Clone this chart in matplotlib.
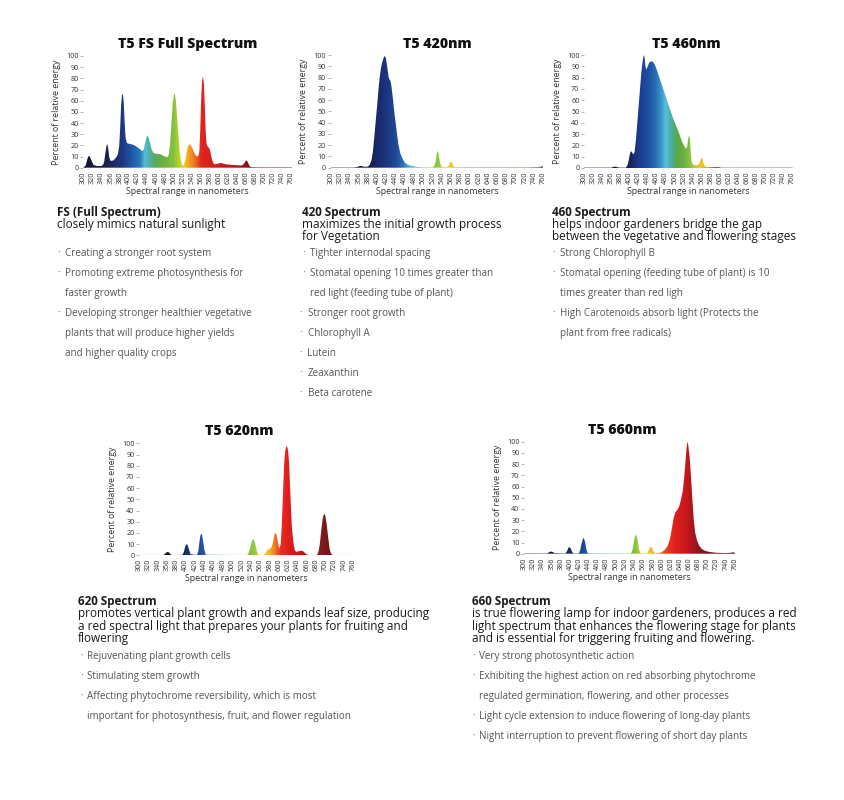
import numpy as np
import matplotlib.pyplot as plt
from matplotlib.colors import LinearSegmentedColormap, Normalize
from matplotlib.patches import Polygon

plt.rcParams['font.family'] = ['Open Sans', 'DejaVu Sans']

W, H = 845, 800

# ---- axis ticks (the reference prints "356" where 360 would be) ----
tick_nm = [300, 320, 340, 360, 380, 400, 420, 440, 460, 480, 500, 520,
           540, 560, 580, 600, 620, 640, 660, 680, 700, 720, 740, 760]
tick_labels = ['300', '320', '340', '356', '380', '400', '420', '440', '460',
               '480', '500', '520', '540', '560', '580', '600', '620', '640',
               '660', '680', '700', '720', '740', '760']
y_ticks = [0, 10, 20, 30, 40, 50, 60, 70, 80, 90, 100]

# ---- spectra ----
fs_nm = [300, 305, 308, 311, 314, 318, 322, 330, 340, 344, 346, 349, 351, 353, 355, 357,
         360, 366, 372, 376, 379, 381, 383, 385, 387, 389, 391, 393, 396, 400, 405, 410,
         415, 420, 425, 430, 433, 436, 439, 441, 443, 446, 450, 455, 460, 465, 470, 475,
         480, 485, 488, 491, 494, 497, 500, 502, 504, 507, 510, 513, 516, 519, 522, 525,
         528, 531, 534, 537, 541, 545, 549, 552, 554, 556, 558, 560, 562, 564, 566, 568,
         570, 572, 575, 578, 581, 584, 587, 590, 595, 600, 605, 610, 615, 620, 630, 640,
         648, 652, 656, 659, 662, 665, 668, 672, 700, 760]
fs_energy = [0.3, 2, 7, 10.5, 10, 6, 2.5, 1.5, 1.5, 3, 6, 15, 20, 21, 16, 9,
             6, 6.5, 9, 12, 20, 35, 55, 65, 66, 58, 40, 27, 22, 21.5, 21, 20.5,
             19.5, 18, 16.5, 15, 16, 22, 27, 28.5, 28, 24, 17, 13, 12.5, 12.5, 12, 11,
             10, 9.5, 11, 20, 38, 57, 66, 66, 60, 45, 28, 13, 5, 2, 2.5, 7,
             14, 19.5, 21, 20, 17, 13, 10.5, 10, 11, 15, 35, 62, 78, 81.5, 75, 55,
             32, 21, 18.5, 17.5, 13, 7, 4, 3, 3.5, 4, 4.2, 3.5, 3, 2.8, 2.5, 2.2,
             2, 2.5, 4.5, 6.5, 6, 3, 1, 0.5, 0.4, 0.4]

nm420 = [300, 350, 358, 362, 366, 370, 375, 380, 384, 388, 391, 394, 397, 400, 403, 406,
         409, 412, 415, 417, 419, 421, 423, 425, 427, 429, 431, 434, 437, 440, 443, 446,
         450, 455, 460, 465, 470, 478, 485, 495, 520, 524, 527, 529, 531, 533, 535, 538,
         541, 552, 555, 558, 560, 562, 565, 568, 750, 755, 758, 760]
energy420 = [0.3, 0.3, 0.8, 1.5, 1.5, 1, 0.8, 1, 2.5, 7, 15, 28, 42, 55, 70, 82,
             90, 95, 98.5, 99, 97, 92, 86, 80, 78, 77, 72, 62, 50, 40, 30, 21,
             13, 8, 4.5, 3, 2.2, 1.5, 0.8, 0.4, 0.4, 1.5, 6, 12, 15, 13, 7, 2,
             0.5, 0.5, 1.5, 4.5, 5.5, 4.5, 1.5, 0.5, 0.5, 1, 1.2, 0.5]

nm460 = [300, 360, 364, 368, 372, 378, 392, 396, 399, 401, 403, 405, 408, 411, 414, 417,
         420, 423, 426, 429, 431, 433, 435, 437, 440, 443, 447, 451, 455, 460, 465, 470,
         475, 480, 485, 490, 495, 500, 505, 510, 515, 520, 524, 527, 529, 531, 533, 535,
         537, 540, 545, 550, 554, 557, 559, 561, 563, 566, 570, 598, 602, 760]
energy460 = [0.3, 0.3, 1, 1.2, 0.8, 0.3, 0.3, 3, 9, 13, 15, 14, 12, 14, 25, 40,
             55, 70, 85, 95, 100, 98, 90, 87, 90, 93, 94.5, 94, 92, 87, 81, 75,
             69, 63, 57, 51, 45, 40, 35, 30, 24, 20, 17, 19, 25, 29, 26, 14,
             5, 3, 2.5, 2.5, 4, 7.5, 9, 8, 4, 1.5, 0.8, 0.8, 0.3, 0.3]

nm620 = [300, 352, 355, 358, 361, 364, 367, 370, 392, 395, 398, 400, 402, 404, 407, 410,
         424, 427, 429, 431, 433, 435, 437, 440, 443, 532, 535, 538, 541, 543, 545, 547,
         550, 553, 556, 568, 572, 576, 580, 584, 587, 589, 591, 593, 595, 597, 599, 601,
         604, 606, 608, 610, 612, 614, 616, 618, 620, 622, 624, 626, 628, 631, 634, 637,
         641, 646, 651, 655, 660, 665, 682, 685, 688, 691, 694, 696, 698, 700, 703, 706,
         709, 712, 716, 760]
energy620 = [0.3, 0.3, 1.2, 2.5, 3, 2.5, 1, 0.3, 0.3, 2, 6.5, 9, 10, 9, 5, 1,
             0.3, 4, 11, 17, 19.5, 18, 13, 5, 0.5, 0.3, 2, 6, 11, 13.5, 14.5, 13,
             9, 3, 0.5, 0.5, 2.5, 5, 5.5, 7, 11, 16, 19, 20, 18.5, 14, 9, 6,
             10, 25, 45, 68, 86, 94, 97, 97, 93, 82, 62, 42, 25, 12, 5, 3,
             3.5, 4, 4, 2.5, 0.8, 0.3, 0.3, 3, 10, 22, 32, 36, 37, 35, 27, 16,
             6, 1.5, 0.3, 0.3]

nm660 = [300, 350, 354, 358, 362, 366, 390, 393, 396, 398, 401, 404, 407, 419, 422, 425,
         428, 430, 433, 436, 439, 533, 536, 539, 542, 544, 547, 550, 553, 568, 571, 574,
         576, 579, 582, 585, 592, 600, 607, 613, 618, 622, 626, 630, 634, 638, 642, 646,
         649, 652, 654, 656, 658, 661, 664, 667, 670, 673, 677, 682, 688, 695, 705, 720,
         740, 750, 755, 758, 760]
energy660 = [0.3, 0.3, 1.2, 2, 1.5, 0.5, 0.3, 2, 5, 6, 5, 2, 0.3, 0.3, 3, 9,
             13.5, 14, 10, 3, 0.3, 0.3, 3, 10, 16, 17, 13, 5, 0.5, 0.3, 2.5, 5.5,
             6.5, 5, 2, 0.5, 0.5, 1.5, 3.5, 7, 13, 22, 32, 37, 39, 42, 48, 56,
             68, 83, 93, 100, 97, 86, 68, 48, 30, 19, 12, 7, 4, 2.5, 1.5, 0.8,
             0.6, 0.8, 1.2, 1, 0.5]

# ---- colour ramps along the wavelength axis ----
fs_stops = [(300, '#15163a'), (340, '#181c44'), (355, '#1c2452'), (385, '#1e3580'),
            (405, '#1f55a3'), (425, '#2776ba'), (436, '#52bfd6'), (444, '#4fb3ad'),
            (458, '#5aa866'), (475, '#6cae3e'), (500, '#86c240'), (512, '#b8d42c'),
            (522, '#f0d21a'), (532, '#f2a621'), (548, '#ea6a22'), (560, '#e2261e'),
            (585, '#d81e1e'), (615, '#c01a1c'), (645, '#a8171c'), (665, '#7c1420'),
            (760, '#5a1020')]
stops420 = [(300, '#10122e'), (380, '#141a48'), (400, '#1a2a6a'), (420, '#1c357f'),
            (440, '#1f4a98'), (455, '#2a6fb5'), (470, '#50b8d8'), (490, '#70c0a0'),
            (510, '#80c050'), (530, '#8cc63f'), (545, '#c8d030'), (560, '#f5c518'),
            (578, '#f0a030'), (600, '#e88080'), (720, '#e07070'), (760, '#303030')]
stops460 = [(300, '#10122e'), (390, '#141a48'), (405, '#1a2560'), (420, '#1d3a8a'),
            (440, '#1f4fa0'), (455, '#2668b0'), (470, '#3a98cc'), (480, '#5ac0dc'),
            (490, '#48b0a8'), (505, '#58a848'), (520, '#6cb03c'), (535, '#8cc63f'),
            (550, '#d8d020'), (560, '#f5c020'), (575, '#e88030'), (590, '#d03020'),
            (760, '#c02020')]
stops620 = [(300, '#10122e'), (370, '#141838'), (400, '#1a2a68'), (430, '#1f4a9a'),
            (460, '#3a90c0'), (530, '#7ab840'), (545, '#8cc63f'), (565, '#e8d020'),
            (578, '#f5c020'), (592, '#f08020'), (605, '#e83020'), (620, '#e01e1e'),
            (650, '#c01a1a'), (680, '#902020'), (700, '#7a1a1a'), (760, '#501018')]
stops660 = [(300, '#10122e'), (360, '#141838'), (400, '#1a2a68'), (430, '#1f4a9a'),
            (460, '#3a90c0'), (530, '#7ab840'), (545, '#8cc63f'), (565, '#e8d020'),
            (576, '#f5c020'), (595, '#f08040'), (610, '#e84020'), (630, '#e01e1e'),
            (650, '#d01a1a'), (665, '#b0161c'), (690, '#801420'), (760, '#401018')]

# ---- texts ----
titles = ['T5 FS Full Spectrum', 'T5 420nm', 'T5 460nm', 'T5 620nm', 'T5 660nm']
heads = ['FS (Full Spectrum)', '420 Spectrum', '460 Spectrum', '620 Spectrum', '660 Spectrum']
subs = [
    ['closely mimics natural sunlight'],
    ['maximizes the initial growth process', 'for Vegetation'],
    ['helps indoor gardeners bridge the gap', 'between the vegetative and flowering stages'],
    ['promotes vertical plant growth and expands leaf size, producing',
     'a red spectral light that prepares your plants for fruiting and', 'flowering'],
    ['is true flowering lamp for indoor gardeners, produces a red',
     'light spectrum that enhances the flowering stage for plants',
     'and is essential for triggering fruiting and flowering.'],
]
bullets = [
    [['Creating a stronger root system'],
     ['Promoting extreme photosynthesis for', 'faster growth'],
     ['Developing stronger healthier vegetative', 'plants that will produce higher yields',
      'and higher quality crops']],
    [['Tighter internodal spacing'],
     ['Stomatal opening 10 times greater than', 'red light (feeding tube of plant)'],
     ['Stronger root growth'], ['Chlorophyll A'], ['Lutein'], ['Zeaxanthin'], ['Beta carotene']],
    [['Strong Chlorophyll B'],
     ['Stomatal opening (feeding tube of plant) is 10', 'times greater than red ligh'],
     ['High Carotenoids absorb light (Protects the', 'plant from free radicals)']],
    [['Rejuvenating plant growth cells'], ['Stimulating stem growth'],
     ['Affecting phytochrome reversibility, which is most',
      'important for photosynthesis, fruit, and flower regulation']],
    [['Very strong photosynthetic action'],
     ['Exhibiting the highest action on red absorbing phytochrome',
      'regulated germination, flowering, and other processes'],
     ['Light cycle extension to induce flowering of long-day plants'],
     ['Night interruption to prevent flowering of short day plants']],
]

# ---- layout in pixels: axes box (left, top, right, bottom), title centre ----
charts = [
    dict(nm=fs_nm, en=fs_energy, stops=fs_stops, box=(83.5, 56, 291.7, 167.7), tc=(187.7, 44.3)),
    dict(nm=nm420, en=energy420, stops=stops420, box=(331, 55, 543.3, 167.7), tc=(437.7, 44.3)),
    dict(nm=nm460, en=energy460, stops=stops460, box=(584.3, 55, 792.7, 168), tc=(686.7, 44.3)),
    dict(nm=nm620, en=energy620, stops=stops620, box=(139.3, 443.3, 353.3, 555.3), tc=(238.8, 431)),
    dict(nm=nm660, en=energy660, stops=stops660, box=(524.3, 441.7, 735, 553.7), tc=(622.5, 430)),
]
blocks = [
    dict(hx=56.7, hy=212.4, dot=58.3, tx=65, by=253.3, shift=[0, 0, 0]),
    dict(hx=301.7, hy=212.3, dot=303.3, tx=310, by=253.3, shift=[0, 0, -2.5, -2.5, -2.5, -2.5, -2.5]),
    dict(hx=552.3, hy=212.3, dot=554, tx=560, by=253.3, shift=[0, 0, 0]),
    dict(hx=78.3, hy=601.7, dot=81.7, tx=86.7, by=656.7, shift=[0, 0, 0]),
    dict(hx=471.7, hy=601.7, dot=473.3, tx=479.3, by=656.7, shift=[0, 0, 0, 0]),
]


def fx(x):
    return x / W


def fy(y):
    return 1 - y / H


fig = plt.figure(figsize=(W / 100, H / 100), dpi=100)
fig.patch.set_facecolor('white')

for c, title in zip(charts, titles):
    l, t, r, b = c['box']
    ax = fig.add_axes([fx(l), fy(b), (r - l) / W, (b - t) / H])
    ax.set_xlim(300, 760)
    ax.set_ylim(0, 100)

    pos = [(s[0] - 300) / 460 for s in c['stops']]
    cmap = LinearSegmentedColormap.from_list('spec', list(zip(pos, [s[1] for s in c['stops']])))
    grad = np.linspace(300, 760, 921).reshape(1, -1)
    im = ax.imshow(grad, extent=[300, 760, 0, 100], aspect='auto', cmap=cmap,
                   norm=Normalize(300, 760), origin='lower', interpolation='bilinear', zorder=2)
    verts = [(c['nm'][0], 0)] + list(zip(c['nm'], c['en'])) + [(c['nm'][-1], 0)]
    shape = Polygon(verts, closed=True, facecolor='none', edgecolor='none', transform=ax.transData)
    ax.add_patch(shape)
    im.set_clip_path(shape)

    for s in ax.spines.values():
        s.set_visible(False)
    ax.set_xticks(tick_nm)
    ax.set_xticklabels(tick_labels, rotation=90, fontsize=5.2, color='#333333')
    ax.set_yticks(y_ticks)
    ax.set_yticklabels([str(v) for v in y_ticks], fontsize=5.2, color='#333333')
    ax.tick_params(axis='x', length=0, pad=2.5)
    ax.tick_params(axis='y', length=2, width=0.5, color='#999999', pad=1.5)

    ax.text(-27 / (r - l), 0.5, 'Percent of relative energy', transform=ax.transAxes,
            rotation=90, ha='center', va='center', fontsize=6.3, color='#333333')
    ax.text(0.5, -23.5 / (b - t), 'Spectral range in nanometers', transform=ax.transAxes,
            ha='center', va='center', fontsize=6.4, color='#333333')

    fig.text(fx(c['tc'][0]), fy(c['tc'][1]), title, ha='center', va='center',
             fontsize=10.2, fontweight='heavy', color='#111111')

for blk, head, sub, items in zip(blocks, heads, subs, bullets):
    fig.text(fx(blk['hx']), fy(blk['hy']), head, ha='left', va='center',
             fontsize=8.4, fontweight='bold', color='#1a1a1a')
    for i, line in enumerate(sub):
        fig.text(fx(blk['hx']), fy(blk['hy'] + 12.3 * (i + 1)), line, ha='left', va='center',
                 fontsize=8.45, color='#1a1a1a')
    y = blk['by']
    for item, sh in zip(items, blk['shift']):
        fig.text(fx(blk['dot'] + sh), fy(y), '·', ha='center', va='center',
                 fontsize=7.1, color='#666666')
        for line in item:
            fig.text(fx(blk['tx'] + sh), fy(y), line, ha='left', va='center',
                     fontsize=7.1, color='#555555')
            y += 20

fig.savefig('out.png', dpi=100, facecolor='white')
